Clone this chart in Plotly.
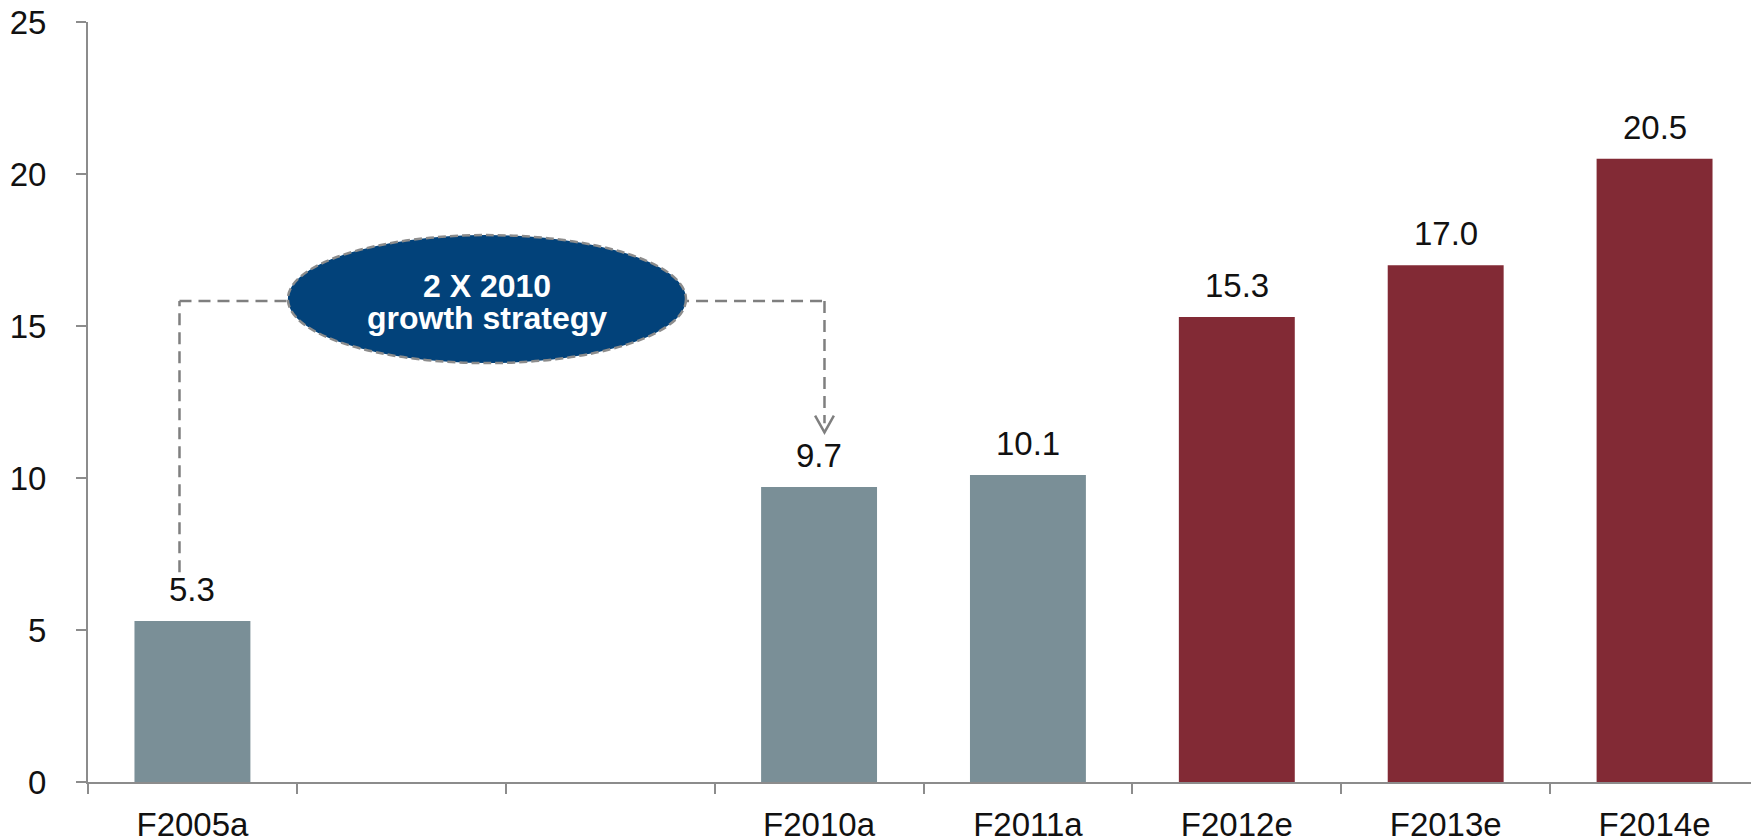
import plotly.graph_objects as go

# data
categories = ["F2005a", " ", "  ", "F2010a", "F2011a", "F2012e", "F2013e", "F2014e"]
values = [5.3, None, None, 9.7, 10.1, 15.3, 17.0, 20.5]
bar_colors = ["#7A8F97", "#7A8F97", "#7A8F97", "#7A8F97", "#7A8F97",
              "#822A35", "#822A35", "#822A35"]
y_ticks = [0, 5, 10, 15, 20, 25]
callout_lines = ["2 X 2010", "growth strategy"]

GRAY = "#8C8C8C"
TEXT = "#111111"
FONT = "Liberation Sans, Arial, sans-serif"

fig = go.Figure()
fig.add_trace(
    go.Bar(
        x=categories,
        y=values,
        marker=dict(color=bar_colors, line=dict(width=0)),
        hoverinfo="skip",
    )
)

# value labels above bars
for cat, v in zip(categories, values):
    if v is None:
        continue
    fig.add_annotation(
        x=cat, y=v, xref="x", yref="y",
        text=f"{v:.1f}",
        showarrow=False,
        yanchor="bottom",
        yshift=11,
        font=dict(size=33, color=TEXT, family=FONT),
    )

# dashed connector from F2005a to F2010a
dash_line = dict(color="#7F7F7F", width=2.5, dash="12px,7px")
fig.add_shape(type="line", xref="x", yref="y", x0=-0.062, y0=6.9, x1=-0.062, y1=15.82, line=dash_line)
fig.add_shape(type="line", xref="x", yref="y", x0=-0.062, y0=15.82, x1=0.5, y1=15.82, line=dash_line)
fig.add_shape(type="line", xref="x", yref="y", x0=2.32, y0=15.82, x1=3.026, y1=15.82, line=dash_line)
fig.add_shape(type="line", xref="x", yref="y", x0=3.026, y0=15.82, x1=3.026, y1=11.8, line=dash_line)
# open arrow head
fig.add_shape(
    type="path", xref="x", yref="y",
    path="M 2.981 12.05 L 3.026 11.5 L 3.071 12.05",
    line=dict(color="#7F7F7F", width=2.5),
)

# ellipse callout
fig.add_shape(
    type="circle", xref="x", yref="y",
    x0=0.457, x1=2.363, y0=13.78, y1=17.99,
    fillcolor="#02427A",
    line=dict(color="#8C8C8C", width=2.5, dash="8px,4px"),
    layer="above",
)
for line_text, ly in zip(callout_lines, [16.3, 15.25]):
    fig.add_annotation(
        x=1.41, y=ly, xref="x", yref="y",
        text=f"<b>{line_text}</b>",
        showarrow=False,
        font=dict(size=32, color="white", family=FONT),
        align="center",
    )

# page body has an 8px margin, so the figure is offset by it
fig.update_layout(
    width=1751,
    height=831,
    plot_bgcolor="white",
    paper_bgcolor="white",
    margin=dict(l=80, r=0, t=14, b=57, autoexpand=False),
    bargap=0.445,
    showlegend=False,
    font=dict(family=FONT, size=33, color=TEXT),
    xaxis=dict(
        type="category",
        automargin=False,
        showgrid=False,
        showline=True,
        linecolor=GRAY,
        linewidth=2,
        ticks="outside",
        tickson="boundaries",
        ticklen=10,
        tickcolor=GRAY,
        tickwidth=2,
        ticklabelstandoff=12,
        ticklabeloverflow="allow",
        tickfont=dict(size=33, color=TEXT),
        fixedrange=True,
    ),
    yaxis=dict(
        range=[0, 25],
        tickvals=y_ticks,
        automargin=False,
        showgrid=False,
        zeroline=False,
        showline=True,
        linecolor=GRAY,
        linewidth=2,
        ticks="outside",
        ticklen=10,
        tickcolor=GRAY,
        tickwidth=2,
        ticklabelstandoff=23,
        ticklabeloverflow="allow",
        tickfont=dict(size=33, color=TEXT),
        fixedrange=True,
    ),
)

fig.write_html("out.html")
